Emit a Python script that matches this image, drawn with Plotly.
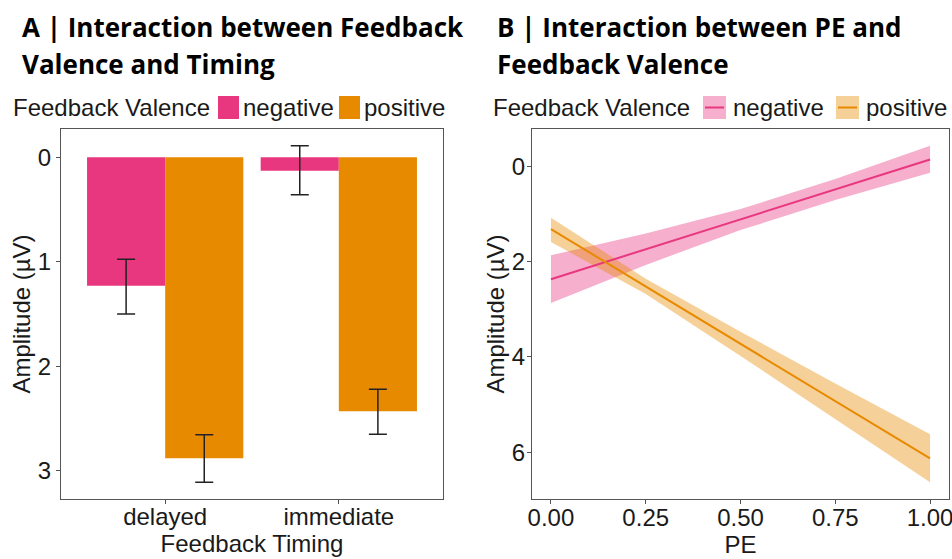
import plotly.graph_objects as go

W, H = 952, 559

# ---------------- data ----------------
timing = ["delayed", "immediate"]
valence = ["negative", "positive"]
colors = ["#E8377F", "#E88A00"]
band_colors = ["rgba(232,55,127,0.4)", "rgba(232,138,0,0.4)"]

# Panel A: mean amplitude and error-bar limits per timing
neg_mean = [1.23, 0.13]
neg_low = [0.975, -0.11]
neg_high = [1.50, 0.36]
pos_mean = [2.88, 2.43]
pos_low = [2.655, 2.22]
pos_high = [3.11, 2.65]

# Panel B: fitted amplitude and confidence band over PE
pe = [0.0, 0.25, 0.5, 0.75, 1.0]
neg_fit = [2.37, 1.74, 1.115, 0.49, -0.14]
neg_lo = [1.87, 1.41, 0.90, 0.27, -0.43]
neg_hi = [2.87, 2.07, 1.34, 0.71, 0.14]
pos_fit = [1.32, 2.52, 3.725, 4.93, 6.13]
pos_lo = [1.08, 2.36, 3.47, 4.56, 5.62]
pos_hi = [1.59, 2.68, 3.98, 5.30, 6.63]

pe_ticks = [0, 0.25, 0.5, 0.75, 1.0]
pe_ticklabels = ["0.00", "0.25", "0.50", "0.75", "1.00"]

# ---------------- helpers ----------------
def px(x):
    return x / W

def py(y):
    return 1 - y / H

TXT = "#1a1a1a"
FONT = "Liberation Sans, Arial, sans-serif"
FS = 24

fig = go.Figure()

# Panel A bars
means = [neg_mean, pos_mean]
lows = [neg_low, pos_low]
highs = [neg_high, pos_high]
for i, v in enumerate(valence):
    m, lo, hi = means[i], lows[i], highs[i]
    fig.add_trace(go.Bar(
        x=timing, y=m, name=v, marker=dict(color=colors[i], line=dict(width=0)),
        error_y=dict(type="data", array=[h - a for h, a in zip(hi, m)],
                     arrayminus=[a - l for a, l in zip(m, lo)],
                     color="#222222", thickness=1.5, width=9),
        xaxis="x", yaxis="y", showlegend=False,
    ))

# Panel B bands and lines
fits = [neg_fit, pos_fit]
los = [neg_lo, pos_lo]
his = [neg_hi, pos_hi]
for i, v in enumerate(valence):
    fig.add_trace(go.Scatter(
        x=pe + pe[::-1], y=his[i] + los[i][::-1], fill="toself",
        fillcolor=band_colors[i], line=dict(width=0), mode="lines",
        xaxis="x2", yaxis="y2", showlegend=False, hoverinfo="skip",
    ))
for i, v in enumerate(valence):
    fig.add_trace(go.Scatter(
        x=pe, y=fits[i], mode="lines", name=v,
        line=dict(color=colors[i], width=2),
        xaxis="x2", yaxis="y2", showlegend=False,
    ))

axis_common = dict(
    showline=True, mirror=True, linecolor="#555555", linewidth=1.3,
    ticks="outside", ticklen=4, tickcolor="#555555", tickwidth=1,
    showgrid=False, zeroline=False, automargin=False,
    tickfont=dict(family=FONT, size=FS, color=TXT),
    ticklabeloverflow="allow",
)
title_font = dict(family=FONT, size=FS, color=TXT)

top, bottom = 129, 499
fig.update_layout(
    width=W, height=H,
    margin=dict(l=0, r=0, t=0, b=0),
    paper_bgcolor="white", plot_bgcolor="white",
    barmode="group", bargap=0.1, bargroupgap=0,
    xaxis=dict(domain=[px(61), px(443)], anchor="y", type="category",
               range=[-0.6, 1.6], ticklabelstandoff=-8,
               title=dict(text="Feedback Timing", font=title_font, standoff=6),
               **axis_common),
    yaxis=dict(domain=[py(bottom), py(top)], anchor="x",
               range=[3.27, -0.27], tickvals=[0, 1, 2, 3],
               title=dict(text="Amplitude (µV)", font=title_font, standoff=0),
               **axis_common),
    xaxis2=dict(domain=[px(532), px(949)], anchor="y2",
                range=[-0.05, 1.05], tickvals=pe_ticks, ticktext=pe_ticklabels,
                ticklabelstandoff=-7,
                title=dict(text="PE", font=title_font, standoff=6),
                **axis_common),
    yaxis2=dict(domain=[py(bottom), py(top)], anchor="x2",
                range=[6.98, -0.78], tickvals=[0, 2, 4, 6], ticklabelstandoff=-3,
                title=dict(text="Amplitude (µV)", font=title_font, standoff=0),
                **axis_common),
    showlegend=False,
)

# Panel titles (one annotation per line for exact line spacing)
title_f = dict(family="Open Sans, sans-serif", size=26, color="black")
titles = [
    (20, ["A | Interaction between Feedback", "Valence and Timing"]),
    (495, ["B | Interaction between PE and", "Feedback Valence"]),
]
for x0, lines in titles:
    for k, line in enumerate(lines):
        fig.add_annotation(text="<b>" + line + "</b>",
                           x=px(x0), y=py(27 + 37 * k), xref="paper", yref="paper",
                           xanchor="left", yanchor="middle", showarrow=False,
                           align="left", font=title_f)

# Manual legends (larger keys than plotly's built-in legend allows)
leg_y = 107.5
leg_font = dict(family=FONT, size=FS, color=TXT)
# Panel A legend
fig.add_annotation(text="Feedback Valence", x=px(11), y=py(leg_y), xref="paper", yref="paper",
                   xanchor="left", yanchor="middle", showarrow=False, font=leg_font)
keyA = [218, 339]
for i, v in enumerate(valence):
    x0 = keyA[i]
    fig.add_shape(type="rect", xref="paper", yref="paper",
                  x0=px(x0), x1=px(x0 + 21), y0=py(leg_y - 11.5), y1=py(leg_y + 11.5),
                  fillcolor=colors[i], line=dict(width=0))
    fig.add_annotation(text=v, x=px(x0 + 23), y=py(leg_y), xref="paper", yref="paper",
                       xanchor="left", yanchor="middle", showarrow=False, font=leg_font)
# Panel B legend
fig.add_annotation(text="Feedback Valence", x=px(491), y=py(leg_y), xref="paper", yref="paper",
                   xanchor="left", yanchor="middle", showarrow=False, font=leg_font)
keyB = [703, 836]
for i, v in enumerate(valence):
    x0 = keyB[i]
    fig.add_shape(type="rect", xref="paper", yref="paper",
                  x0=px(x0), x1=px(x0 + 23), y0=py(leg_y - 11.5), y1=py(leg_y + 11.5),
                  fillcolor=band_colors[i], line=dict(width=0))
    fig.add_shape(type="line", xref="paper", yref="paper",
                  x0=px(x0 + 2), x1=px(x0 + 21), y0=py(leg_y), y1=py(leg_y),
                  line=dict(color=colors[i], width=2))
    fig.add_annotation(text=v, x=px(x0 + 28), y=py(leg_y), xref="paper", yref="paper",
                       xanchor="left", yanchor="middle", showarrow=False, font=leg_font)

fig.write_html("out.html")
